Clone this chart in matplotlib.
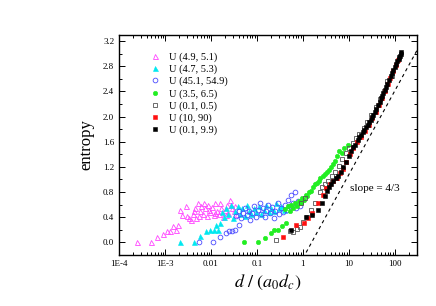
import numpy as np
import matplotlib
matplotlib.use("Agg")
import matplotlib.pyplot as plt
from matplotlib.ticker import LogLocator, MultipleLocator, FixedLocator, FixedFormatter, NullFormatter

plt.rcParams['font.family'] = ['Liberation Serif', 'DejaVu Serif']
plt.rcParams['mathtext.fontset'] = 'stix'

# ---------------- data ----------------
mag_x = [0.00024, 0.00049, 0.00066, 0.00091, 0.0011, 0.0013, 0.0015, 0.0017, 0.0019, 0.0021,
         0.0023, 0.0028, 0.0030, 0.0033, 0.0036, 0.0040, 0.0044, 0.0048, 0.0052, 0.0057,
         0.0062, 0.0068, 0.0074, 0.0080, 0.0088, 0.0096, 0.0105, 0.0115, 0.0125, 0.0137,
         0.015, 0.0165, 0.018, 0.020, 0.022, 0.024, 0.026, 0.028, 0.031, 0.034, 0.037,
         0.0042, 0.0055, 0.0070, 0.0092, 0.012, 0.016, 0.021, 0.027]
mag_y = [0.0, 0.0, 0.08, 0.14, 0.18, 0.18, 0.26, 0.19, 0.28, 0.51,
         0.44, 0.58, 0.42, 0.39, 0.35, 0.45, 0.55, 0.38, 0.62, 0.50,
         0.58, 0.45, 0.55, 0.42, 0.60, 0.48, 0.56, 0.44, 0.62, 0.50,
         0.45, 0.55, 0.40, 0.52, 0.60, 0.47, 0.68, 0.55, 0.50, 0.58, 0.45,
         0.50, 0.42, 0.63, 0.52, 0.47, 0.62, 0.43, 0.60]

cya_x = [0.0021, 0.0043, 0.0059, 0.0079, 0.0095, 0.0117, 0.0126, 0.0145, 0.0155,
         0.017, 0.019, 0.021, 0.024, 0.027, 0.030, 0.034, 0.038, 0.043, 0.048, 0.054,
         0.060, 0.068, 0.076, 0.085, 0.095, 0.11, 0.12, 0.14, 0.16, 0.18, 0.20, 0.23,
         0.26, 0.30, 0.34, 0.38]
cya_y = [0.0, 0.0, 0.10, 0.18, 0.20, 0.20, 0.27, 0.20, 0.30,
         0.48, 0.40, 0.55, 0.45, 0.60, 0.38, 0.50, 0.58, 0.45, 0.55, 0.42,
         0.60, 0.50, 0.45, 0.55, 0.48, 0.58, 0.45, 0.52, 0.60, 0.48, 0.55, 0.50,
         0.62, 0.55, 0.58, 0.52]

blu_x = [0.0056, 0.011, 0.016, 0.021, 0.025, 0.029, 0.034, 0.040,
         0.035, 0.041, 0.045, 0.050, 0.055, 0.060, 0.066, 0.072, 0.080, 0.088, 0.095,
         0.105, 0.115, 0.125, 0.135, 0.148, 0.16, 0.175, 0.19, 0.21, 0.23, 0.25, 0.28,
         0.30, 0.33, 0.36, 0.40, 0.44, 0.48, 0.52, 0.56, 0.60, 0.66, 0.72, 0.78, 0.85]
blu_y = [0.0, 0.0, 0.08, 0.15, 0.18, 0.18, 0.19, 0.28,
         0.42, 0.50, 0.38, 0.47, 0.55, 0.43, 0.50, 0.36, 0.46, 0.57, 0.40,
         0.52, 0.62, 0.45, 0.55, 0.40, 0.50, 0.60, 0.47, 0.56, 0.38, 0.50, 0.62,
         0.45, 0.55, 0.48, 0.60, 0.52, 0.68, 0.58, 0.75, 0.62, 0.80, 0.55, 0.65, 0.58]

grn_x = [0.053, 0.107, 0.148, 0.20, 0.23, 0.29, 0.35, 0.42,
         0.40, 0.47, 0.52, 0.56, 0.62, 0.68, 0.74, 0.82, 0.90, 0.97, 1.05, 1.15,
         1.25, 1.35, 1.5, 1.65, 1.8, 2.0, 2.2, 2.4, 2.7, 3.0, 3.3, 3.7, 4.1, 4.6,
         5.1, 5.6, 6.1, 7.0, 8.0, 9.5]
grn_y = [0.0, 0.0, 0.075, 0.15, 0.19, 0.20, 0.26, 0.30,
         0.53, 0.57, 0.50, 0.60, 0.55, 0.62, 0.58, 0.65, 0.62, 0.70, 0.68, 0.75,
         0.73, 0.80, 0.82, 0.88, 0.92, 0.95, 0.98, 1.02, 1.05, 1.08, 1.12, 1.15, 1.20, 1.25,
         1.30, 1.38, 1.45, 1.42, 1.50, 1.55]

gry_x = [0.26, 0.52, 0.62, 0.73, 0.86, 1.0, 1.25, 1.5, 1.85, 2.3, 2.6, 3.0, 3.5, 4.2,
         5.0, 6.0, 7.0, 8.5, 10, 12, 14.5, 17, 21, 25, 31, 38, 47, 57, 68, 85, 0.9, 1.1]
gry_y = [0.04, 0.18, 0.17, 0.21, 0.25, 0.33, 0.40, 0.51, 0.62, 0.80, 0.88, 0.92, 0.98, 1.05,
         1.12, 1.22, 1.32, 1.42, 1.50, 1.58, 1.66, 1.73, 1.82, 1.92, 2.03, 2.15, 2.28, 2.40, 2.56, 2.64, 0.62, 0.70]

red_x = [0.36, 0.72, 1.03, 1.3, 1.6, 2.15, 2.7, 3.2, 3.8, 4.5, 5.4, 6.4, 7.3, 8.8,
         10.5, 12.5, 15, 18, 22, 27, 32, 38, 45, 52, 60, 70, 80, 92, 105, 118]
red_y = [0.085, 0.28, 0.30, 0.39, 0.47, 0.62, 0.76, 0.86, 0.93, 0.98, 1.02, 1.10, 1.17, 1.28,
         1.40, 1.50, 1.60, 1.68, 1.77, 1.86, 1.97, 2.07, 2.19, 2.30, 2.40, 2.52, 2.62, 2.72, 2.82, 2.90]

blk_x = [0.55, 1.17, 1.55, 2.1, 2.6, 3.0, 3.4, 3.7, 4.1, 4.6, 5.2, 5.9, 6.6, 7.6, 8.5,
         9.8, 11, 12.5, 13.5, 15.5, 17, 18.6, 20, 21.5, 24, 26.3, 28, 30, 32, 34, 36.5,
         39, 43, 46.8, 50, 53, 56.5, 60, 64, 69, 76, 83, 88, 93, 100, 107, 113, 120, 125,
         130, 134, 138]
blk_y = [0.20, 0.40, 0.44, 0.52, 0.62, 0.74, 0.82, 0.88, 0.93, 0.98, 1.02, 1.06, 1.12, 1.20, 1.28,
         1.38, 1.45, 1.52, 1.55, 1.62, 1.67, 1.71, 1.75, 1.78, 1.83, 1.87, 1.91, 1.95, 1.99, 2.03, 2.07,
         2.12, 2.18, 2.24, 2.29, 2.33, 2.38, 2.43, 2.47, 2.52, 2.59, 2.65, 2.70, 2.74, 2.79, 2.83, 2.88, 2.92, 2.95,
         2.97, 3.00, 3.02]

labels = ['U (4.9, 5.1)', 'U (4.7, 5.3)', 'U (45.1, 54.9)', 'U (3.5, 6.5)',
          'U (0.1, 0.5)', 'U (10, 90)', 'U (0.1, 9.9)']

slope = 4.0 / 3.0
x_zero = 1.55
x_ticks = [1e-4, 1e-3, 1e-2, 1e-1, 1, 10, 100]
x_ticklabels = ['1E-4', '1E-3', '0.01', '0.1', '1', '10', '100']

# ---------------- figure ----------------
fig = plt.figure(figsize=(4.36, 3.06), dpi=100)
ax = fig.add_axes([0.273, 0.167, 0.683, 0.719])

ax.plot(mag_x, mag_y, linestyle='none', marker='^', mfc='none', mec='#ff44ff', ms=3.6, mew=0.6, label=labels[0])
ax.plot(cya_x, cya_y, linestyle='none', marker='^', mfc='#00e8f0', mec='#00e8f0', ms=3.6, mew=0.4, label=labels[1])
ax.plot(blu_x, blu_y, linestyle='none', marker='o', mfc='none', mec='#4a4aff', ms=3.4, mew=0.6, label=labels[2])
ax.plot(grn_x, grn_y, linestyle='none', marker='o', mfc='#22ee22', mec='#22ee22', ms=3.2, mew=0.4, label=labels[3])
ax.plot(gry_x, gry_y, linestyle='none', marker='s', mfc='none', mec='#555555', ms=2.9, mew=0.6, label=labels[4])
ax.plot(red_x, red_y, linestyle='none', marker='s', mfc='#ff1010', mec='#ff1010', ms=2.9, mew=0.4, label=labels[5])
ax.plot(blk_x, blk_y, linestyle='none', marker='s', mfc='black', mec='black', ms=3.2, mew=0.4, label=labels[6])

xl = np.logspace(np.log10(1.0), np.log10(400), 200)
ax.plot(xl, slope * np.log10(xl / x_zero), 'k--', lw=0.8, dashes=(3, 3))

ax.set_xscale('log')
ax.set_xlim(1e-4, 300)
ax.set_ylim(-0.2, 3.3)

ax.xaxis.set_major_locator(FixedLocator(x_ticks))
ax.xaxis.set_major_formatter(FixedFormatter(x_ticklabels))
ax.xaxis.set_minor_locator(LogLocator(base=10, subs=np.arange(2, 10), numticks=20))
ax.xaxis.set_minor_formatter(NullFormatter())
ax.yaxis.set_major_locator(MultipleLocator(0.4))
ax.yaxis.set_minor_locator(MultipleLocator(0.2))
ax.yaxis.set_major_formatter(plt.FuncFormatter(lambda v, p: f'{v:.1f}'))

ax.tick_params(which='both', direction='in', top=True, right=True, labelsize=6.5, width=0.7)
ax.tick_params(which='major', length=4)
ax.tick_params(which='minor', length=2)
for s in ax.spines.values():
    s.set_linewidth(1.0)

ax.set_ylabel('entropy', fontsize=12, labelpad=6)
ax.set_xlabel(r'$d\ /\ (a_0 d_c)$', fontsize=13, labelpad=4)

ax.text(10.5, 0.85, 'slope = 4/3', fontsize=8, va='center', ha='left')

ax.legend(loc='upper left', bbox_to_anchor=(0.09, 0.94), frameon=False, fontsize=7.5,
          handlelength=1.0, handletextpad=0.8, labelspacing=0.25, borderaxespad=0, numpoints=1)

fig.savefig('out.png', dpi=100)
